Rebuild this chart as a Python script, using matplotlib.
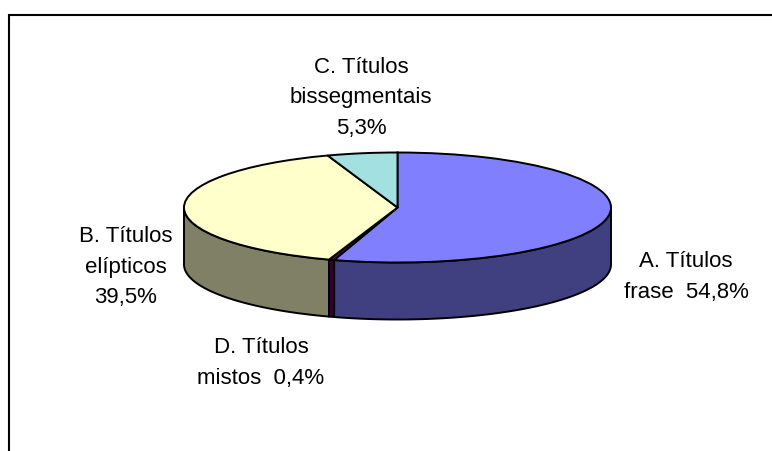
import numpy as np
import matplotlib
matplotlib.use("Agg")
import matplotlib.pyplot as plt
from matplotlib.lines import Line2D

W, H = 772, 451
categories = ["A. Títulos\nfrase  54,8%", "D. Títulos\nmistos  0,4%", "B. Títulos\nelípticos\n39,5%", "C. Títulos\nbissegmentais\n5,3%"]
values = [54.8, 0.4, 39.5, 5.3]
top_colors = ["#8080FF", "#660066", "#FFFFCC", "#A3E0E0"]
side_colors = ["#404080", "#330033", "#808066", "#527070"]
label_pos = [(686, 277), (261, 363), (126, 267), (361, 98)]

plt.rcParams["font.family"] = ["Liberation Sans", "DejaVu Sans"]
fig = plt.figure(figsize=(W / 100, H / 100), dpi=100, facecolor="white")

cx, cy, rx, ry, depth = 397.5, 207.5, 213.5, 55.0, 57.0
# axes whose unit circle is the pie's top ellipse
x0 = -cx / rx
x1 = (W - cx) / rx
y1 = cy / ry
y0 = (cy - H) / ry
ax = fig.add_axes([0, 0, 1, 1])
lw = 1.4
d = depth / ry

# side walls
edges = 90 - np.cumsum([0] + values) * 3.6
for i, col in enumerate(side_colors):
    a0, a1 = edges[i + 1], edges[i]
    lo, hi = max(a0, -180), min(a1, 0)
    if lo < hi:
        t = np.radians(np.linspace(lo, hi, 200))
        xs = np.cos(t)
        ys = np.sin(t)
        ax.fill(np.r_[xs, xs[::-1]], np.r_[ys, ys[::-1] - d],
                facecolor=col, edgecolor="black", linewidth=lw, joinstyle="round", zorder=1)

# top
wedges, _ = ax.pie(values, colors=top_colors, startangle=90, counterclock=False, radius=1,
                   wedgeprops=dict(edgecolor="black", linewidth=lw, zorder=2))
ax.set_aspect("auto")
ax.set_xlim(x0, x1)
ax.set_ylim(y0, y1)
ax.set_axis_off()

for label, (px, py) in zip(categories, label_pos):
    fig.text(px / W, 1 - py / H, label, ha="center", va="center", fontsize=16,
             color="black", linespacing=1.6)

# chart-area border (runs off the right and bottom of the crop)
fig.add_artist(Line2D([9 / W, 9 / W, 1], [0, 1 - 14.5 / H, 1 - 14.5 / H], color="black",
                      linewidth=1.5, solid_joinstyle="miter"))

fig.savefig("out.png", dpi=100, facecolor="white")
